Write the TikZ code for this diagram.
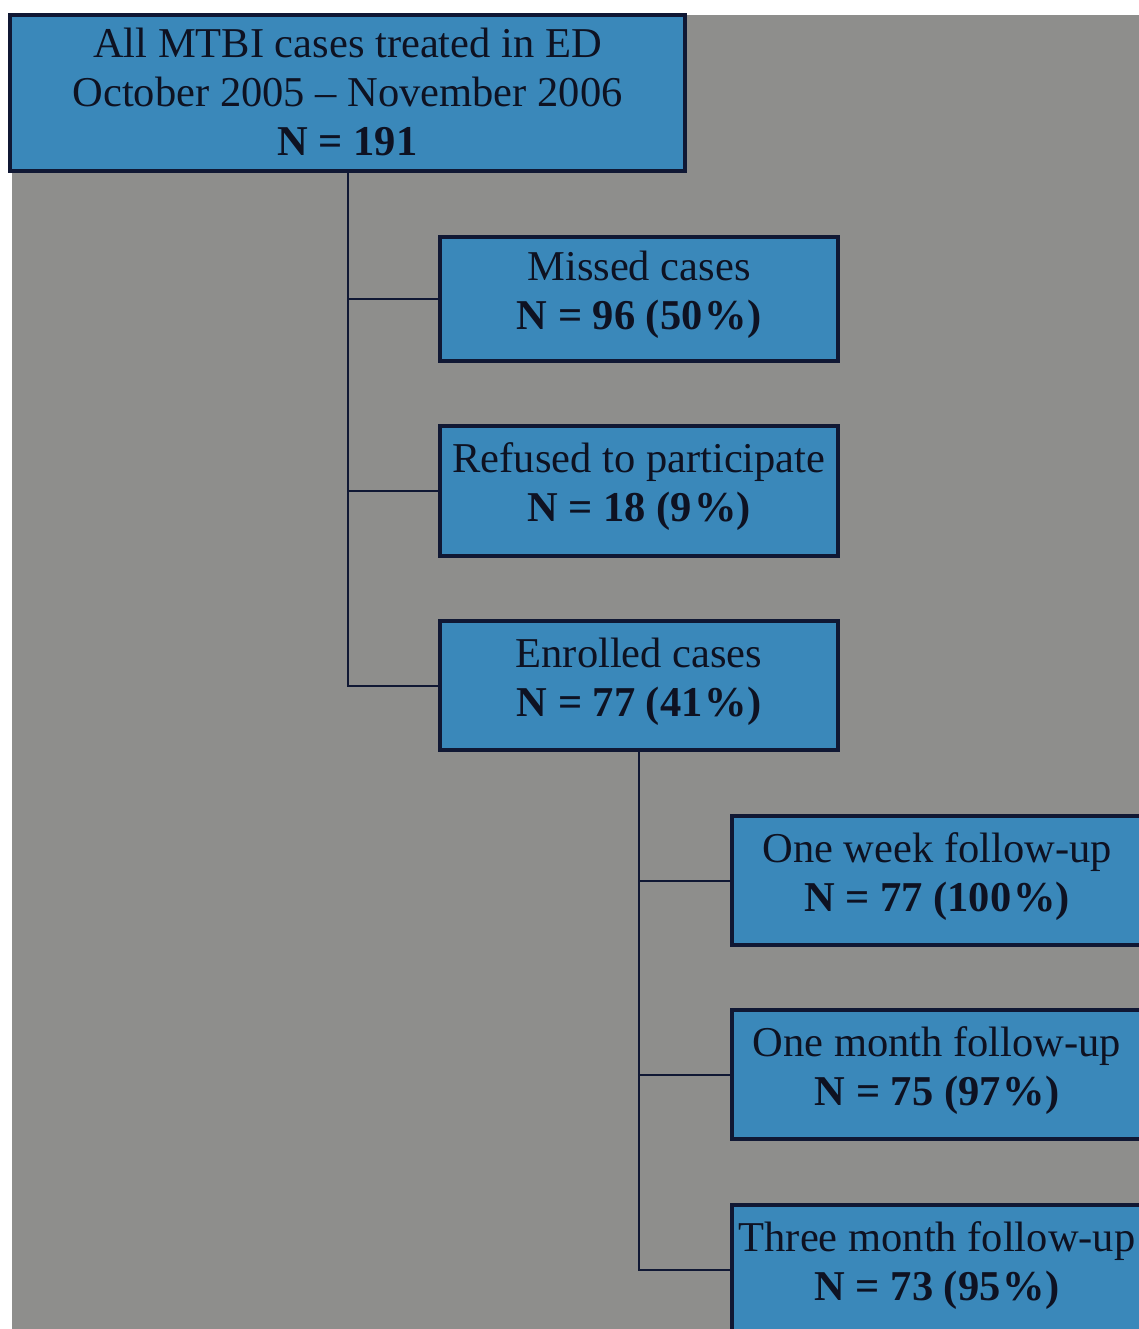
\documentclass[tikz,border=0pt]{standalone}
\usepackage{fontspec}
\setmainfont{Liberation Serif}
\definecolor{bgrey}{RGB}{142,142,140}
\definecolor{boxblue}{RGB}{58,136,186}
\definecolor{boxline}{RGB}{16,24,52}
\definecolor{txt}{RGB}{14,18,34}
\newcommand{\pct}{\kern2pt\%}
\tikzset{
  fbox/.style={draw=boxline, line width=3.5pt, fill=boxblue, inner sep=0pt},
  lbl/.style={text=txt, align=center, inner sep=0pt, font=\fontsize{42.5}{49}\selectfont},
  conn/.style={draw=boxline, line width=2pt}
}
\begin{document}
\begin{tikzpicture}[x=1pt,y=-1pt]
\useasboundingbox (0,0) rectangle (1139,1329);
\clip (0,0) rectangle (1139,1329);
\fill[white] (0,0) rectangle (1139,1329);
\fill[bgrey] (12,15) rectangle (1139,1329);
\node[fbox, minimum width=675pt, minimum height=156pt,
  label={[lbl,yshift=1pt]center:{All MTBI cases treated in ED\\October 2005 -- November 2006\\\textbf{N = 191}}}] (top) at (347.5,93) {};
\node[fbox, minimum width=398pt, minimum height=124pt,
  label={[lbl,yshift=4pt]center:{Missed cases\\\textbf{N = 96 (50\pct)}}}] (missed) at (639,299) {};
\node[fbox, minimum width=398pt, minimum height=130pt,
  label={[lbl,yshift=4pt]center:{Refused to participate\\\textbf{N = 18 (9\pct)}}}] (refused) at (639,491) {};
\node[fbox, minimum width=398pt, minimum height=129pt,
  label={[lbl,yshift=4pt]center:{Enrolled cases\\\textbf{N = 77 (41\pct)}}}] (enrolled) at (639,685.5) {};
\node[fbox, minimum width=410pt, minimum height=129pt,
  label={[lbl,yshift=4pt]center:{One week follow-up\\\textbf{N = 77 (100\pct)}}}] (week) at (937,880.5) {};
\node[fbox, minimum width=410pt, minimum height=129pt,
  label={[lbl,yshift=4pt]center:{One month follow-up\\\textbf{N = 75 (97\pct)}}}] (month) at (937,1074.5) {};
\node[fbox, minimum width=410pt, minimum height=129pt,
  label={[lbl,yshift=4pt]center:{Three month follow-up\\\textbf{N = 73 (95\pct)}}}] (three) at (937,1269.5) {};
\draw[conn] (top.south) |- (missed.west);
\draw[conn] (top.south) |- (refused.west);
\draw[conn] (top.south) |- (enrolled.west);
\draw[conn] (enrolled.south) |- (week.west);
\draw[conn] (enrolled.south) |- (month.west);
\draw[conn] (enrolled.south) |- (three.west);
\end{tikzpicture}
\end{document}
